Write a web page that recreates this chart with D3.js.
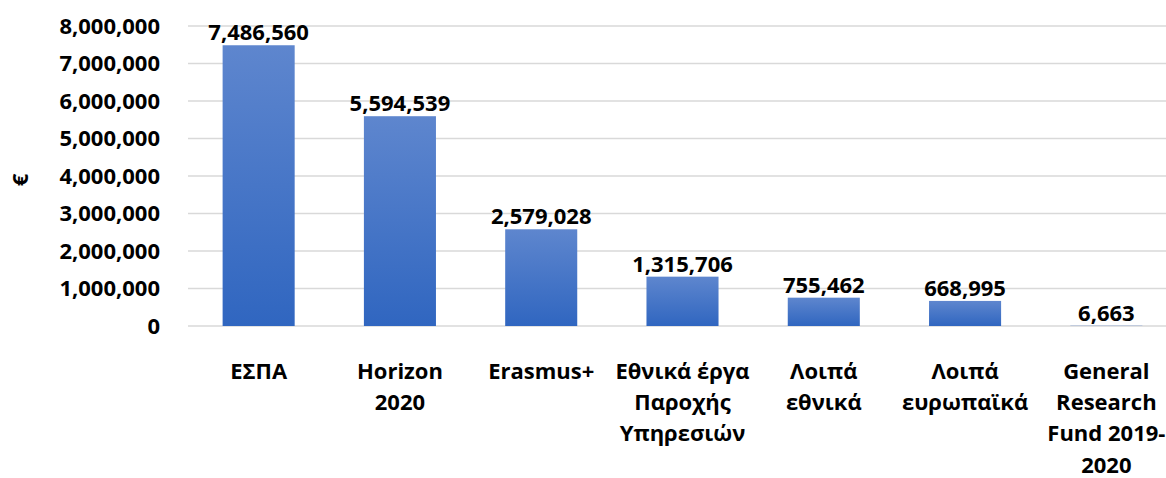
<!DOCTYPE html>
<html>
<head>
<meta charset="utf-8">
<script src="https://cdn.jsdelivr.net/npm/d3@7"></script>
<style>
    body { margin: 0; background: #fff; }
    text { font-family: "Open Sans", sans-serif; font-weight: bold; fill: #000; }
</style>
</head>
<body>
<svg id="canvas" width="1166" height="478"></svg>
<script>
// data
var categories = ["ΕΣΠΑ", "Horizon 2020", "Erasmus+", "Εθνικά έργα Παροχής Υπηρεσιών",
    "Λοιπά εθνικά", "Λοιπά ευρωπαϊκά", "General Research Fund 2019-2020"];
var categoryLines = [
    ["ΕΣΠΑ"],
    ["Horizon", "2020"],
    ["Erasmus+"],
    ["Εθνικά έργα", "Παροχής", "Υπηρεσιών"],
    ["Λοιπά", "εθνικά"],
    ["Λοιπά", "ευρωπαϊκά"],
    ["General", "Research", "Fund 2019-", "2020"]
];
var values = [7486560, 5594539, 2579028, 1315706, 755462, 668995, 6663];
var yTicks = [0, 1000000, 2000000, 3000000, 4000000, 5000000, 6000000, 7000000, 8000000];

function drawChart() {
    "use strict";

    var svg = d3.select(document.getElementById('canvas'));
    var fmt = d3.format(',');

    var x = d3.scaleBand()
        .domain(categories)
        .range([188, 1177])
        .paddingInner(0.49)
        .paddingOuter(0.245);

    var y = d3.scaleLinear()
        .domain([0, 8000000])
        .range([326, 26]);

    // bar gradient
    var grad = svg.append('defs').append('linearGradient')
        .attr('id', 'barFill')
        .attr('x1', 0).attr('y1', 0).attr('x2', 0).attr('y2', 1);
    grad.append('stop').attr('offset', '0%').attr('stop-color', '#5e86ce');
    grad.append('stop').attr('offset', '100%').attr('stop-color', '#3066c0');

    // gridlines
    svg.append('g').selectAll('line')
        .data(yTicks)
        .enter().append('line')
        .attr('x1', 188)
        .attr('x2', 1166)
        .attr('y1', function(d) { return y(d); })
        .attr('y2', function(d) { return y(d); })
        .attr('stroke', '#d9d9d9')
        .attr('stroke-width', 1.5);

    // y axis labels
    var yAxis = svg.append('g')
        .attr('transform', 'translate(168,0)')
        .call(d3.axisLeft(y).tickValues(yTicks).tickFormat(fmt).tickSize(0).tickPadding(8));
    yAxis.select('.domain').remove();
    yAxis.selectAll('text')
        .attr('font-size', 22)
        .attr('font-family', '"Open Sans", sans-serif')
        .attr('font-weight', 'bold')
        .attr('fill', '#000');

    // bars
    svg.append('g').selectAll('rect')
        .data(values)
        .enter().append('rect')
        .attr('x', function(d, i) { return x(categories[i]); })
        .attr('width', x.bandwidth())
        .attr('y', function(d) { return y(d); })
        .attr('height', function(d) { return y(0) - y(d); })
        .attr('fill', 'url(#barFill)');

    // value labels
    svg.append('g').selectAll('text')
        .data(values)
        .enter().append('text')
        .attr('x', function(d, i) { return x(categories[i]) + x.bandwidth() / 2; })
        .attr('y', function(d) { return y(d) - 5; })
        .attr('text-anchor', 'middle')
        .attr('font-size', 22)
        .text(function(d) { return fmt(d); });

    // category labels
    var cats = svg.append('g').selectAll('text')
        .data(categoryLines)
        .enter().append('text')
        .attr('text-anchor', 'middle')
        .attr('font-size', 22)
        .attr('transform', function(d, i) {
            return 'translate(' + (x(categories[i]) + x.bandwidth() / 2) + ',379)';
        });
    cats.selectAll('tspan')
        .data(function(d) { return d; })
        .enter().append('tspan')
        .attr('x', 0)
        .attr('y', function(d, j) { return j * 31.2; })
        .text(function(d) { return d; });

    // y title
    svg.append('text')
        .attr('transform', 'translate(28,180) rotate(-90)')
        .attr('text-anchor', 'middle')
        .attr('font-size', 22)
        .text('€');
}

drawChart();
</script>
</body>
</html>
